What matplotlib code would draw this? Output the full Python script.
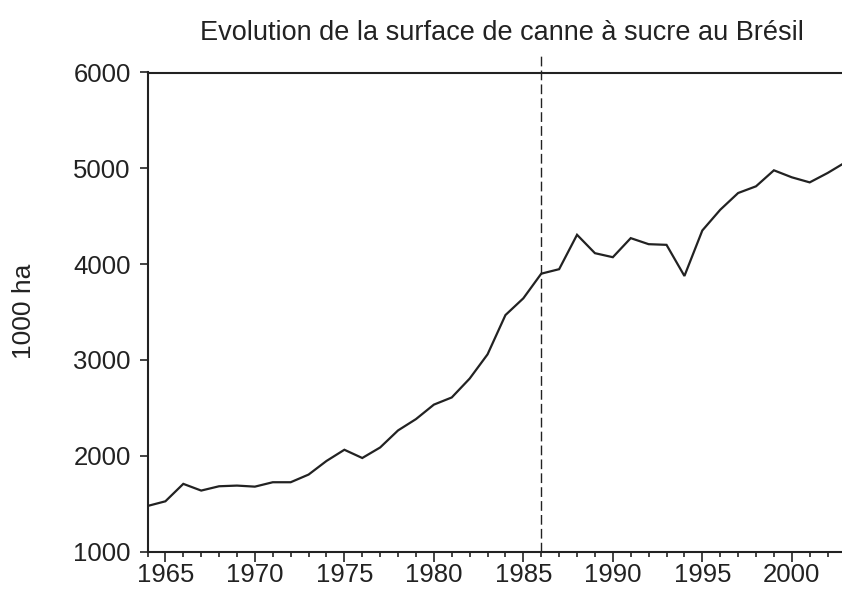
import matplotlib
matplotlib.use("Agg")
import matplotlib.pyplot as plt
from matplotlib.ticker import MultipleLocator

# surface de canne à sucre (1000 ha)
years = list(range(1964, 2004))
surface = [1475, 1524, 1706, 1636, 1681, 1688, 1677, 1723, 1723, 1803,
           1945, 2062, 1976, 2086, 2264, 2382, 2533, 2608, 2805, 3058,
           3468, 3643, 3900, 3947, 4306, 4114, 4072, 4271, 4208, 4201,
           3876, 4351, 4567, 4742, 4812, 4979, 4906, 4853, 4951, 5063]
break_year = 1986
y_ticks = [1000, 2000, 3000, 4000, 5000, 6000]

plt.rcParams['font.family'] = ['Liberation Sans', 'DejaVu Sans']
ink = "#222222"

W, H = 842, 589
fig = plt.figure(figsize=(W / 100, H / 100), dpi=100)
ax = fig.add_axes([147.5 / W, 37.5 / H, 698 / W, 479 / H])

ax.plot(years, surface, color=ink, linewidth=1.6, solid_joinstyle="miter")
ax.axvline(break_year, ymin=0, ymax=1.036, color=ink, linewidth=1.0,
           linestyle=(0, (7, 3)), clip_on=False)

ax.set_xlim(1964, 2003)
ax.set_ylim(1000, 6000)
ax.set_yticks(y_ticks)
ax.xaxis.set_major_locator(MultipleLocator(5))
ax.xaxis.set_minor_locator(MultipleLocator(1))

for s in ["left", "bottom", "top"]:
    ax.spines[s].set_linewidth(1.5)
    ax.spines[s].set_color(ink)
ax.spines["right"].set_visible(False)

ax.tick_params(axis="x", which="major", length=7, width=1.2, pad=1.5,
               labelsize=18.5, colors=ink)
ax.tick_params(axis="x", which="minor", length=3.6, width=1.2, colors=ink)
ax.tick_params(axis="y", which="major", length=6, width=1.2, pad=6,
               labelsize=18.5, colors=ink)

fig.text(502 / W, 1 - 40 / H, "Evolution de la surface de canne à sucre au Brésil",
         ha="center", va="baseline", fontsize=19.5, color=ink)
fig.text(24 / W, 1 - 311 / H, "1000 ha", rotation=90, ha="center", va="center",
         fontsize=19, color=ink)

fig.savefig("out.png", dpi=100)
